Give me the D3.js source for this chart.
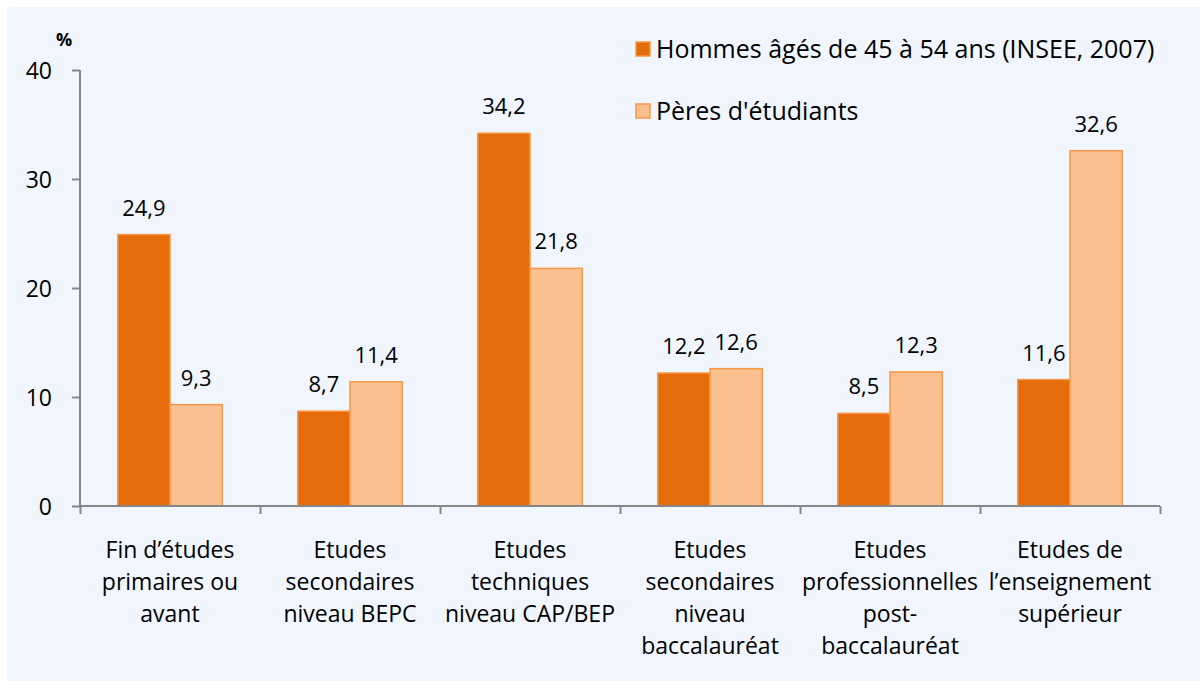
<!DOCTYPE html>
<html lang="fr">
<head>
<meta charset="utf-8">
<title>Diplôme des pères</title>
<script src="https://cdn.jsdelivr.net/npm/d3@7"></script>
<style>
  body { margin: 0; background: #fff; }
  svg text { font-family: "Open Sans", "Noto Sans", sans-serif; fill: #000; }
</style>
</head>
<body>
<div id="chart"></div>
<script>
// data
var categories = [
  ["Fin d\u2019études", "primaires ou", "avant"],
  ["Etudes", "secondaires", "niveau BEPC"],
  ["Etudes", "techniques", "niveau CAP/BEP"],
  ["Etudes", "secondaires", "niveau", "baccalauréat"],
  ["Etudes", "professionnelles", "post-", "baccalauréat"],
  ["Etudes de", "l\u2019enseignement", "supérieur"]
];
var seriesNames = ["Hommes âgés de 45 à 54 ans (INSEE, 2007)", "Pères d'étudiants"];
var hommes = [24.9, 8.7, 34.2, 12.2, 8.5, 11.6];
var peres = [9.3, 11.4, 21.8, 12.6, 12.3, 32.6];
var yTicks = [0, 10, 20, 30, 40];

var width = 1200, height = 681;
var fills = ["#e46c0a", "#fac090"];
var strokes = ["#f79646", "#f79646"];

var svg = d3.select("#chart").append("svg")
    .attr("width", width)
    .attr("height", height);

svg.append("rect")
    .attr("x", 7).attr("y", 7)
    .attr("width", width - 7).attr("height", height - 7)
    .attr("fill", "#f1f6fe");

var x0 = d3.scaleBand()
    .domain(d3.range(categories.length))
    .range([80, 1160])
    .paddingInner(0.42)
    .paddingOuter(0.21);

var x1 = d3.scaleBand()
    .domain([0, 1])
    .range([0, x0.bandwidth()]);

var y = d3.scaleLinear()
    .domain([0, 40])
    .range([506, 70]);

var series = [hommes, peres];

// bars
series.forEach(function(vals, s){
  svg.selectAll(".bar" + s)
    .data(vals)
    .enter().append("rect")
    .attr("class", "bar" + s)
    .attr("x", function(d, i){ return x0(i) + x1(s); })
    .attr("y", function(d){ return y(d); })
    .attr("width", x1.bandwidth())
    .attr("height", function(d){ return y(0) - y(d); })
    .attr("fill", fills[s])
    .attr("stroke", strokes[s])
    .attr("stroke-width", 1.5);

  svg.selectAll(".lbl" + s)
    .data(vals)
    .enter().append("text")
    .attr("class", "lbl" + s)
    .attr("x", function(d, i){ return x0(i) + x1(s) + x1.bandwidth() / 2; })
    .attr("y", function(d){ return y(d) - 19; })
    .attr("text-anchor", "middle")
    .style("font-size", "22px")
    .text(function(d){ return d.toFixed(1).replace(".", ","); });
});

// y axis
var yAxis = svg.append("g")
    .attr("transform", "translate(80,0)")
    .call(d3.axisLeft(y).tickValues(yTicks).tickSize(8).tickPadding(20));
yAxis.selectAll("text").style("font-size", "23px").attr("dy", "0.35em");

// x axis, ticks at category boundaries
var step = x0.step();
var xAxis = svg.append("g")
    .attr("transform", "translate(0," + y(0) + ")")
    .call(d3.axisBottom(d3.scaleLinear().domain([0, categories.length]).range([80, 80 + step * categories.length]))
      .tickValues(d3.range(categories.length + 1)).tickSize(8).tickFormat(""));

[yAxis, xAxis].forEach(function(g){
  g.select(".domain").attr("stroke", "#868686").attr("stroke-width", 2);
  g.selectAll(".tick line").attr("stroke", "#868686").attr("stroke-width", 2);
});
yAxis.select(".domain").attr("d", "M0," + y(40) + "V" + y(0));
xAxis.select(".domain").attr("d", "M80,0H" + (80 + step * categories.length));

// category labels
var catLabels = svg.selectAll(".cat")
    .data(categories)
    .enter().append("text")
    .attr("class", "cat")
    .attr("text-anchor", "middle")
    .style("font-size", "23px");
catLabels.each(function(lines, i){
  d3.select(this).selectAll("tspan")
    .data(lines)
    .enter().append("tspan")
    .attr("x", x0(i) + x0.bandwidth() / 2)
    .attr("y", function(d, k){ return 558 + k * 32; })
    .text(function(d){ return d; });
});

// unit
svg.append("text")
    .attr("x", 64).attr("y", 46)
    .attr("text-anchor", "middle")
    .style("font-size", "18px")
    .style("font-weight", "bold")
    .text("%");

// legend
var legend = svg.selectAll(".legend")
    .data(seriesNames)
    .enter().append("g")
    .attr("class", "legend")
    .attr("transform", function(d, i){ return "translate(636," + (42 + i * 62) + ")"; });
legend.append("rect")
    .attr("width", 14).attr("height", 14)
    .attr("fill", function(d, i){ return fills[i]; })
    .attr("stroke", function(d, i){ return strokes[i]; })
    .attr("stroke-width", 1.5);
legend.append("text")
    .attr("x", 20).attr("y", 7)
    .attr("dy", "0.35em")
    .style("font-size", "25px")
    .text(function(d){ return d; });
</script>
</body>
</html>
